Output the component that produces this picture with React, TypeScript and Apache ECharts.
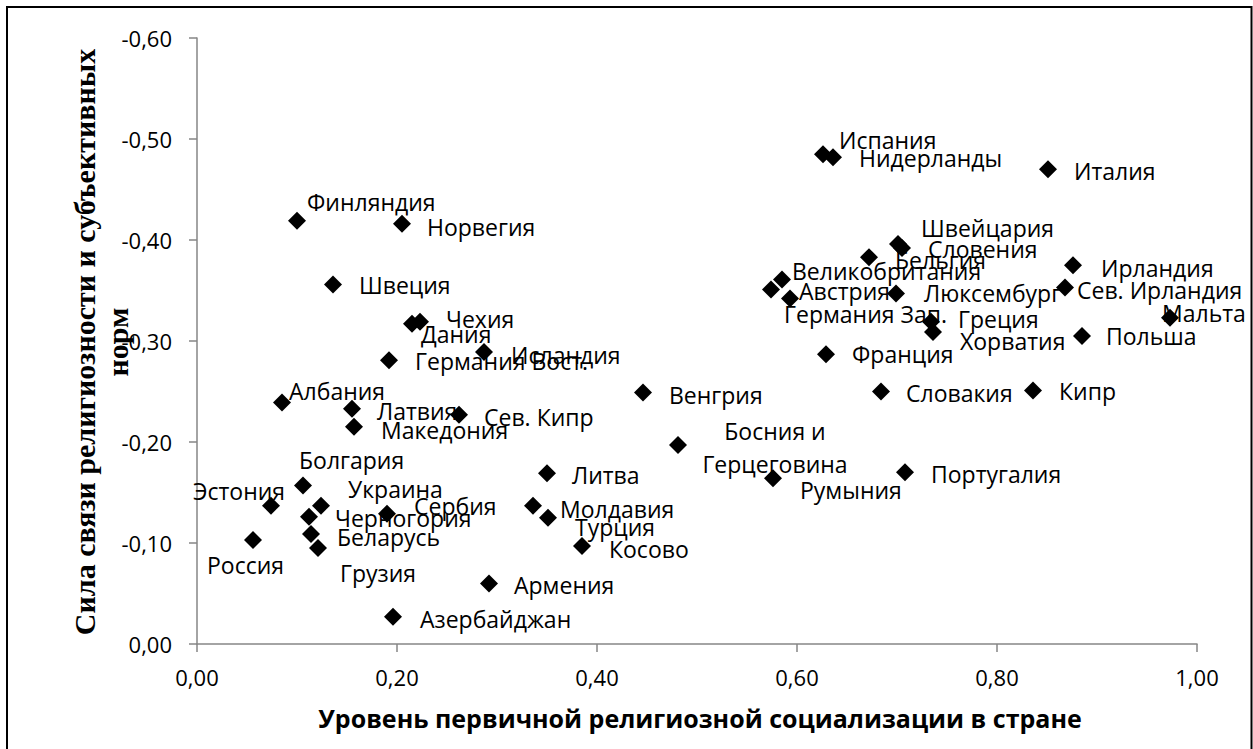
import React, { useEffect, useRef } from 'react';
import * as echarts from 'echarts';

const countries: string[] = [
  'Финляндия', 'Норвегия', 'Швеция', 'Чехия', 'Дания', 'Исландия', 'Германия Вост.',
  'Албания', 'Латвия', 'Македония', 'Сев. Кипр', 'Болгария', 'Эстония', 'Украина',
  'Черногория', 'Сербия', 'Россия', 'Беларусь', 'Грузия', 'Азербайджан', 'Армения',
  'Косово', 'Литва', 'Молдавия', 'Турция', 'Венгрия', 'Босния и\nГерцеговина', 'Румыния',
  'Португалия', 'Словакия', 'Франция', 'Испания', 'Нидерланды', 'Великобритания', 'Австрия',
  'Германия Зап.', 'Бельгия', 'Швейцария', 'Словения', 'Люксембург', 'Греция', 'Хорватия',
  'Италия', 'Ирландия', 'Сев. Ирландия', 'Мальта', 'Польша', 'Кипр',
];

const xValues: number[] = [
  0.100, 0.205, 0.136, 0.223, 0.215, 0.287, 0.192,
  0.085, 0.155, 0.157, 0.262, 0.106, 0.074, 0.124,
  0.112, 0.190, 0.056, 0.114, 0.121, 0.196, 0.292,
  0.385, 0.350, 0.336, 0.351, 0.446, 0.481, 0.576,
  0.708, 0.684, 0.629, 0.626, 0.636, 0.585, 0.574,
  0.593, 0.672, 0.701, 0.705, 0.699, 0.734, 0.736,
  0.851, 0.876, 0.868, 0.973, 0.885, 0.836,
];

const yValues: number[] = [
  -0.419, -0.416, -0.356, -0.319, -0.317, -0.289, -0.281,
  -0.239, -0.233, -0.215, -0.227, -0.157, -0.137, -0.137,
  -0.126, -0.129, -0.103, -0.109, -0.095, -0.027, -0.060,
  -0.097, -0.169, -0.137, -0.125, -0.249, -0.197, -0.164,
  -0.170, -0.250, -0.287, -0.485, -0.482, -0.361, -0.351,
  -0.342, -0.383, -0.396, -0.392, -0.347, -0.319, -0.309,
  -0.470, -0.375, -0.353, -0.323, -0.305, -0.251,
];

// label offset (left edge / vertical middle) relative to the marker centre, px
const labelOffsets: [number, number][] = [
  [10, -19], [25, 3], [26, 1], [26, -3], [9, 10], [27, 3], [26, 1],
  [7, -12], [25, 2], [27, 3], [25, 2], [-4, -25], [-78, -15], [27, -17],
  [26, 1], [27, -8], [-46, 25], [26, 3], [22, 25], [27, 2], [25, 2],
  [27, 3], [25, 2], [27, 3], [27, 9], [26, 2], [97, 2], [27, 12],
  [26, 2], [25, 1], [26, 0], [16, -14], [26, 1], [10, -8], [28, 2],
  [-6, 15], [26, 3], [23, -16], [26, 1], [28, -1], [27, -3], [27, 9],
  [26, 2], [28, 3], [12, 3], [-8, -5], [24, 0], [26, 1],
];

const centeredLabels = new Set<string>(['Босния и\nГерцеговина']);

const xTickLabels: string[] = ['0,00', '0,20', '0,40', '0,60', '0,80', '1,00'];
const yTickLabels: string[] = ['-0,60', '-0,50', '-0,40', '-0,30', '-0,20', '-0,10', '0,00'];

const X_MIN = 0, X_MAX = 1, X_STEP = 0.2;
const Y_MIN = -0.6, Y_MAX = 0, Y_STEP = 0.1;

const xTitle = 'Уровень первичной религиозной социализации в стране';
const yTitle = 'Сила связи религиозности и субъективных\nнорм';

const FONT = '"Open Sans", "Noto Sans", sans-serif';
const SYM = 18;

export default function App() {
  const ref = useRef<HTMLDivElement>(null);
  useEffect(() => {
    if (!ref.current) return;
    const chart = echarts.init(ref.current, undefined, { renderer: 'svg' });
    const half = SYM / 2;
    const data = countries.map((name, i) => {
      const [dx, dy] = labelOffsets[i];
      const centered = centeredLabels.has(name);
      return {
        name,
        value: [xValues[i], yValues[i]],
        label: {
          position: [dx + half, dy + half],
          align: centered ? 'center' : 'left',
          verticalAlign: 'middle',
          lineHeight: centered ? 33 : undefined,
        },
      };
    });
    chart.setOption({
      animation: false,
      backgroundColor: '#ffffff',
      grid: { left: 197, right: 56, top: 38, bottom: 105, containLabel: false },
      xAxis: {
        type: 'value',
        min: X_MIN,
        max: X_MAX,
        interval: X_STEP,
        splitLine: { show: false },
        axisLine: { show: true, onZero: false, lineStyle: { color: '#868686', width: 1.5 } },
        axisTick: { show: true, inside: false, length: 8, lineStyle: { color: '#868686', width: 1.5 } },
        axisLabel: {
          margin: 22,
          fontFamily: FONT,
          fontSize: 22,
          color: '#000',
          formatter: (v: number) => xTickLabels[Math.round((v - X_MIN) / X_STEP)] ?? '',
        },
      },
      yAxis: {
        type: 'value',
        inverse: true,
        min: Y_MIN,
        max: Y_MAX,
        interval: Y_STEP,
        splitLine: { show: false },
        axisLine: { show: true, onZero: false, lineStyle: { color: '#868686', width: 1.5 } },
        axisTick: { show: true, inside: false, length: 8, lineStyle: { color: '#868686', width: 1.5 } },
        axisLabel: {
          margin: 25,
          fontFamily: FONT,
          fontSize: 22,
          color: '#000',
          formatter: (v: number) => yTickLabels[Math.round((v - Y_MIN) / Y_STEP)] ?? '',
        },
      },
      series: [
        {
          type: 'scatter',
          symbol: 'diamond',
          symbolSize: SYM,
          itemStyle: { color: '#000000', opacity: 1 },
          label: {
            show: true,
            fontFamily: FONT,
            fontSize: 23,
            color: '#000',
            formatter: (p: any) => p.name,
          },
          emphasis: { disabled: true },
          data,
        },
      ],
      graphic: [
        {
          type: 'rect',
          shape: { x: 7, y: 7, width: 1244.5, height: 760 },
          style: { fill: 'none', stroke: '#000', lineWidth: 2 },
          silent: true,
        },
        {
          type: 'text',
          x: 700,
          y: 718,
          style: {
            text: xTitle,
            fontFamily: FONT,
            fontWeight: 'bold',
            fontSize: 25,
            fill: '#000',
            align: 'center',
            verticalAlign: 'middle',
          },
        },
        {
          type: 'text',
          x: 101,
          y: 342,
          rotation: Math.PI / 2,
          style: {
            text: yTitle,
            fontFamily: '"Liberation Serif", "Times New Roman", serif',
            fontWeight: 'bold',
            fontSize: 30,
            lineHeight: 33,
            fill: '#000',
            align: 'center',
            verticalAlign: 'middle',
          },
        },
      ],
    });
    return () => chart.dispose();
  }, []);
  return (
    <div
      ref={ref}
      style={{ position: 'fixed', left: 0, top: 0, width: 1253, height: 749 }}
    />
  );
}
